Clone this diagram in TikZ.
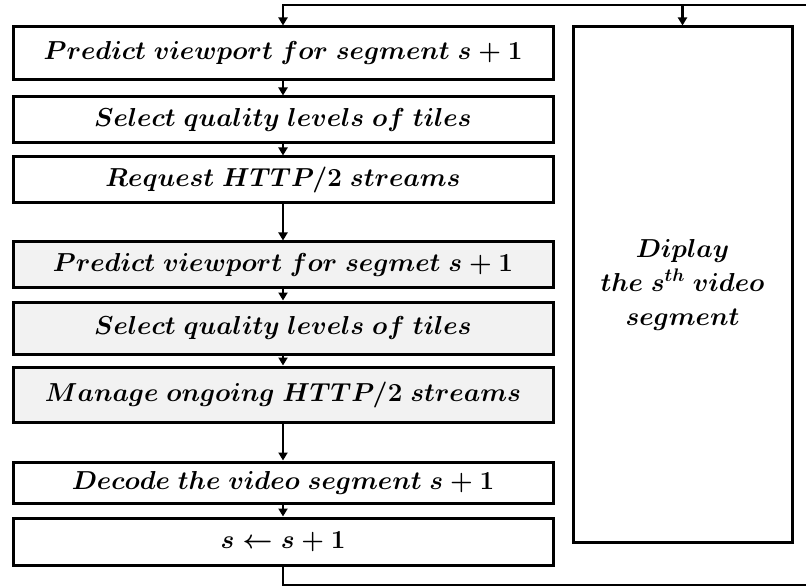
\RequirePackage{fix-cm}
\documentclass[tikz,border=0pt]{standalone}
\usetikzlibrary{arrows.meta}

\definecolor{boxgrey}{HTML}{F2F2F2}
\tikzset{
  stepbox/.style={draw, line width=3pt, minimum width=540pt, inner sep=0pt},
  greybox/.style={stepbox, fill=boxgrey},
  flow/.style={line width=2.5pt, -{Triangle[length=8pt,width=9pt]}}
}

\begin{document}
\begin{tikzpicture}[x=1pt,y=-1pt,font=\fontsize{26}{34}\selectfont\boldmath]
\useasboundingbox (0,0) rectangle (806,588);

\node[stepbox, minimum height=53pt] (pred) at (283,53.5) {$Predict\ viewport\ for\ segment\ s+1$};
\node[stepbox, minimum height=46pt] (sel) at (283,120) {$Select\ quality\ levels\ of\ tiles$};
\node[stepbox, minimum height=46pt] (req) at (283,180) {$Request\ HTTP/2\ streams$};

\node[greybox, minimum height=45pt] (predb) at (283,264.5) {$Predict\ viewport\ for\ segmet\ s+1$};
\node[greybox, minimum height=52pt] (selb) at (283,328) {$Select\ quality\ levels\ of\ tiles$};
\node[greybox, minimum height=55pt] (man) at (283,394.5) {$Manage\ ongoing\ HTTP/2\ streams$};

\node[stepbox, minimum height=41pt] (dec) at (283,482.5) {$Decode\ the\ video\ segment\ s+1$};
\node[stepbox, minimum height=47pt] (inc) at (283,541.5) {$s\leftarrow s+1$};

\node[stepbox, minimum width=219pt, minimum height=515pt, align=center] (disp) at (682.5,284.5)
  {$Diplay$\\$the\ s^{th}\ video$\\$segment$};

\coordinate (top) at (806,5);
\coordinate (bot) at (806,585);

\draw[flow] (pred) -- (sel);
\draw[flow] (sel) -- (req);
\draw[flow] (req) -- (predb);
\draw[flow] (predb) -- (selb);
\draw[flow] (selb) -- (man);
\draw[flow] (man) -- (dec);
\draw[flow] (dec) -- (inc);

\draw[line width=2.5pt] (inc.south) |- (bot);
\draw[flow] (top) -| (pred.north);
\draw[flow] (disp.north |- top) -- (disp.north);
\end{tikzpicture}
\end{document}
